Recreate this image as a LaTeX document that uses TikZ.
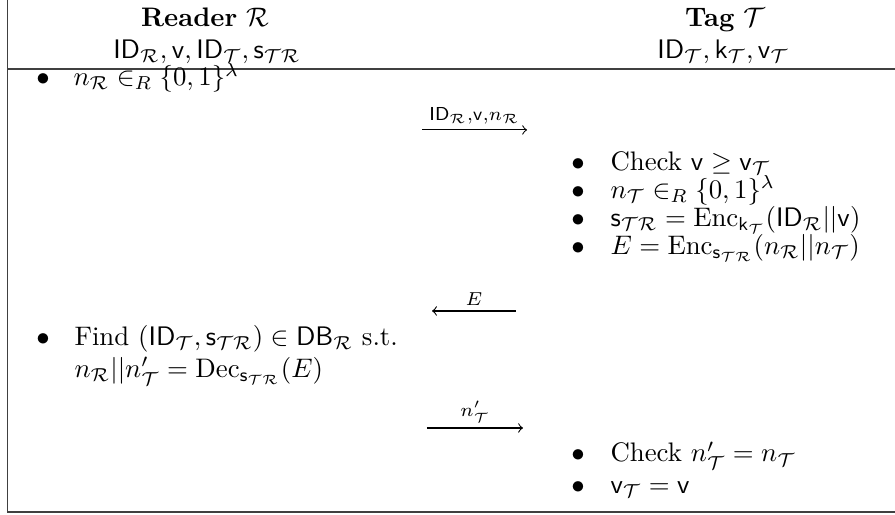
\documentclass[tikz,border=0pt]{standalone}
\usepackage{amsmath,amssymb}
\tikzset{
  hdr/.style={anchor=base, inner sep=0pt},
  dot/.style={anchor=base, inner sep=0pt},
  entry/.style={anchor=base west, inner sep=0pt},
  msg/.style={above, inner sep=2pt},
  rule/.style={black!75, line width=0.6pt},
}
\newcommand{\R}{\mathcal{R}}
\newcommand{\T}{\mathcal{T}}
\newcommand{\sTR}{\mathsf{s}_{\T\R}}
\begin{document}
\begin{tikzpicture}
    \useasboundingbox (0,0) rectangle (11.736,6.753);
    % frame
    \draw[rule] (0.098,6.753) -- (0.098,0.039) -- (11.736,0.039);
    \draw[rule] (0.098,5.848) -- (11.736,5.848);
    % headers
    \node[hdr] (rd) at (2.688,6.399) {\textbf{Reader} $\R$};
    \node[hdr] (rdk) at (2.714,5.980) {$\mathsf{ID}_\R, \mathsf{v}, \mathsf{ID}_\T, \sTR$};
    \node[hdr] (tg) at (9.507,6.399) {\textbf{Tag} $\T$};
    \node[hdr] (tgk) at (9.481,5.980) {$\mathsf{ID}_\T, \mathsf{k}_\T, \mathsf{v}_\T$};
    % reader side
    \node[dot] (rb1) at (0.564,5.626) {$\bullet$};
    \node[entry] (r1) at (0.957,5.626) {$n_\R \in_R \{0,1\}^\lambda$};
    \node[dot] (rb2) at (0.564,2.220) {$\bullet$};
    \node[entry] (r2) at (0.970,2.220) {Find $(\mathsf{ID}_\T, \sTR) \in \mathsf{DB}_\R$ s.t.};
    \node[entry] (r2b) at (0.970,1.800) {$n_\R||n'_\T = \mathrm{Dec}_{\sTR}(E)$};
    % tag side
    \foreach \yy/\txt [count=\i] in {
        4.520/{Check $\mathsf{v} \geq \mathsf{v}_\T$},
        4.150/{$n_\T \in_R \{0,1\}^\lambda$},
        3.780/{$\sTR = \mathrm{Enc}_{\mathsf{k}_\T}(\mathsf{ID}_\R||\mathsf{v})$},
        3.410/{$E = \mathrm{Enc}_{\sTR}(n_\R||n_\T)$},
        0.695/{Check $n'_\T = n_\T$},
        0.288/{$\mathsf{v}_\T = \mathsf{v}$}} {
      \node[dot] (tb\i) at (7.579,\yy) {$\bullet$};
      \node[entry] (t\i) at (7.999,\yy) {\txt};
    }
    % messages
    \coordinate (m1a) at (5.534,5.049);
    \coordinate (m1b) at (6.911,5.049);
    \coordinate (m2a) at (6.766,2.675);
    \coordinate (m2b) at (5.665,2.675);
    \coordinate (m3a) at (5.599,1.141);
    \coordinate (m3b) at (6.858,1.141);
    \draw[->] (m1a) -- node[msg] (l1) {$\scriptstyle \mathsf{ID}_\R,\mathsf{v},n_\R$} (m1b);
    \draw[->] (m2a) -- node[msg] (l2) {$\scriptstyle E$} (m2b);
    \draw[->] (m3a) -- node[msg] (l3) {$\scriptstyle n'_\T$} (m3b);
\end{tikzpicture}
\end{document}
